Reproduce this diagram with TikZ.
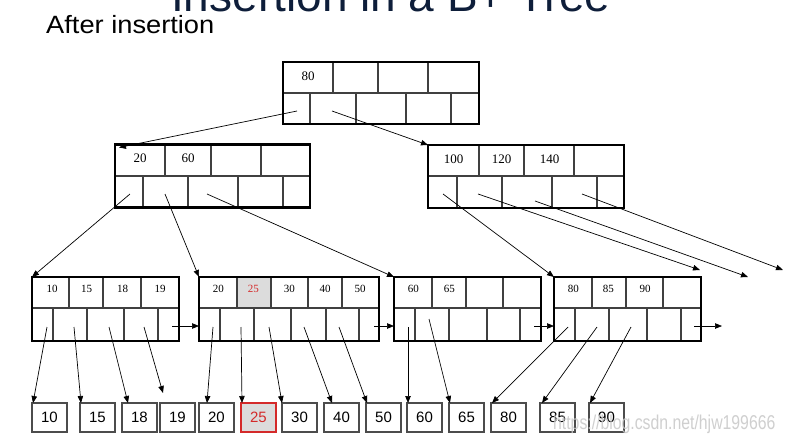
\documentclass[tikz,border=0pt]{standalone}
\usepackage{fontspec}
\setmainfont{Liberation Serif}
\newfontfamily\arial{Liberation Sans}
\usetikzlibrary{arrows.meta,calc}
\definecolor{keyred}{HTML}{D42A2A}
\definecolor{hl}{HTML}{DCDCDC}
\definecolor{titleblue}{HTML}{0E1E3A}
\newcommand\treenode[8]{%
  \draw[div] (#2,#5) -- (#3,#5);
  \foreach \xx in {#7} \draw[div] (\xx,#4) -- (\xx,#5);
  \foreach \xx in {#8} \draw[div] (\xx,#5) -- (\xx,#6);
  \node[frame, minimum width={(#3-#2)*1pt}, minimum height={(#6-#4)*1pt}, anchor=north west] (#1) at (#2,#4) {};
}
\begin{document}
\begin{tikzpicture}[x=1pt,y=-1pt,
  frame/.style={draw=black, line width=2.8pt, inner sep=0pt, outer sep=0pt},
  div/.style={draw=black!75, line width=1.1pt},
  ptr/.style={draw=black, line width=0.7pt, -{Triangle[length=7pt,width=5.5pt]}},
  ikey/.style={inner sep=0pt, font=\fontsize{13}{13}\selectfont},
  lkey/.style={inner sep=0pt, font=\fontsize{11}{11}\selectfont},
  rec/.style={draw=black!70, line width=1.3pt, minimum width=35pt, minimum height=29pt,
    anchor=north west, inner sep=0pt, outer sep=0pt, font=\arial\fontsize{15}{15}\selectfont}]
\useasboundingbox (0,0) rectangle (785,442);
\fill[white] (0,0) rectangle (785,442);

% titles
\node[anchor=base west, inner sep=0pt, text=titleblue, font=\arial\fontsize{46}{46}\selectfont] (title) at (171,11) {Insertion in a B+ Tree};
\node[anchor=base west, inner sep=0pt, font=\arial\fontsize{25}{25}\selectfont, xscale=1.09] (sub) at (46,33) {After insertion};

% highlighted cell
\fill[hl] (237,277) rectangle (271,308);

% tree nodes
\treenode{root}{283}{479}{62}{93}{124}{333,378,428}{310,356,406,451}
\treenode{inl}{115}{310}{144.5}{176}{207.5}{165,211,261}{143,188,238,283}
\treenode{inr}{428}{624}{145}{176}{208}{479,524,574}{457,502,552,597}
\treenode{l1}{32}{179}{277}{308}{341}{69,103,141}{53,87,124,158}
\treenode{l2}{199}{379}{277}{308}{341}{237,271,308,342}{220,254,291,326,359}
\treenode{l3}{394}{541}{277}{308}{341}{432,466,503}{415,449,487,520}
\treenode{l4}{554}{701}{277}{308}{341}{592,626,663}{575,609,647,681}

% keys
\node[ikey] (k80r) at (308,76) {80};
\node[ikey] (k20i) at (140,158.5) {20};
\node[ikey] (k60i) at (188,158.5) {60};
\node[ikey] (k100) at (453.5,159.5) {100};
\node[ikey] (k120) at (501.5,159.5) {120};
\node[ikey] (k140) at (549.5,159.5) {140};
\node[lkey] (k10) at (52,289) {10};
\node[lkey] (k15) at (86.5,289) {15};
\node[lkey] (k18) at (122.5,289) {18};
\node[lkey] (k19) at (160,289) {19};
\node[lkey] (k20) at (218.3,289) {20};
\node[lkey, text=keyred] (k25) at (253.3,289) {25};
\node[lkey] (k30) at (289.3,289) {30};
\node[lkey] (k40) at (325,289) {40};
\node[lkey] (k50) at (360,289) {50};
\node[lkey] (k60) at (413.3,289) {60};
\node[lkey] (k65) at (449.3,289) {65};
\node[lkey] (k80) at (573.3,289) {80};
\node[lkey] (k85) at (608.3,289) {85};
\node[lkey] (k90) at (645,289) {90};

% records
\node[rec] (r10) at (32,403) {10};
\node[rec] (r15) at (80,403) {15};
\node[rec] (r18) at (122,403) {18};
\node[rec] (r19) at (160,403) {19};
\node[rec] (r20) at (199,403) {20};
\node[rec, draw=keyred, fill=hl, text=keyred] (r25) at (241,403) {25};
\node[rec] (r30) at (282,403) {30};
\node[rec] (r40) at (324,403) {40};
\node[rec] (r50) at (366,403) {50};
\node[rec] (r60) at (407,403) {60};
\node[rec] (r65) at (449,403) {65};
\node[rec] (r80) at (491,403) {80};
\node[rec] (r85) at (540,403) {85};
\node[rec] (r90) at (589,403) {90};

% pointer origins
\coordinate (rp1) at (297,111);
\coordinate (rp2) at (332,111);
\coordinate (ilp1) at (130,194);
\coordinate (ilp2) at (165,194);
\coordinate (ilp3) at (207,194);
\coordinate (irp1) at (443,194);
\coordinate (irp2) at (478,194);
\coordinate (irp3) at (535,201);
\coordinate (irp4) at (582,194);
\coordinate (ire2) at (700,270);
\coordinate (ire3) at (748,277);
\coordinate (ire4) at (783,270);

% internal pointers
\draw[ptr] (rp1) -- ([shift={(4,3)}]inl.north west);
\draw[ptr] (rp2) -- (inr.north west);
\draw[ptr] (ilp1) -- (l1.north west);
\draw[ptr] (ilp2) -- (l2.north west);
\draw[ptr] (ilp3) -- (l3.north west);
\draw[ptr] (irp1) -- (l4.north west);
\draw[ptr] (irp2) -- (ire2);
\draw[ptr] (irp3) -- (ire3);
\draw[ptr] (irp4) -- (ire4);

% leaf pointers to records
\coordinate (a10) at (47,327);
\coordinate (a15) at (74,327);
\coordinate (a18) at (109,327);
\coordinate (a19) at (144,327);
\coordinate (a20) at (213,327);
\coordinate (a25) at (241,327);
\coordinate (a30) at (269,327);
\coordinate (a40) at (304,327);
\coordinate (a50) at (339,327);
\coordinate (a60) at (408,327);
\coordinate (a65) at (429,319);
\coordinate (a80) at (568,327);
\coordinate (a85) at (597,327);
\coordinate (a90) at (631,327);
\draw[ptr] (a10) -- ([xshift=1pt]r10.north west);
\draw[ptr] (a15) -- ([xshift=1pt]r15.north west);
\draw[ptr] (a18) -- ([xshift=6pt]r18.north west);
\draw[ptr] (a19) -- ([xshift=3pt,yshift=10pt]r19.north west);
\draw[ptr] (a20) -- ([xshift=8pt]r20.north west);
\draw[ptr] (a25) -- ([xshift=1pt]r25.north west);
\draw[ptr] (a30) -- (r30.north west);
\draw[ptr] (a40) -- ([xshift=8pt]r40.north west);
\draw[ptr] (a50) -- ([xshift=1pt]r50.north west);
\draw[ptr] (a60) -- ([xshift=1pt]r60.north west);
\draw[ptr] (a65) -- ([xshift=1pt]r65.north west);
\draw[ptr] (a80) -- ([xshift=1pt]r80.north west);
\draw[ptr] (a85) -- ([xshift=2pt]r85.north west);
\draw[ptr] (a90) -- ([xshift=1pt]r90.north west);

% leaf chain
\coordinate (n1) at (172,326);
\coordinate (n2) at (374,326);
\coordinate (n3) at (534,326);
\coordinate (n4) at (694,326);
\coordinate (n5) at (722,326);
\draw[ptr] (n1) -- (n1 -| l2.west);
\draw[ptr] (n2) -- (n2 -| l3.west);
\draw[ptr] (n3) -- (n3 -| l4.west);
\draw[ptr] (n4) -- (n5);

% watermark
\node[anchor=base west, inner sep=0pt, font=\arial\fontsize{20}{20}\selectfont, text=black!22, opacity=0.85, xscale=0.79] (wm) at (553,429) {https://blog.csdn.net/hjw199666};
\end{tikzpicture}
\end{document}
